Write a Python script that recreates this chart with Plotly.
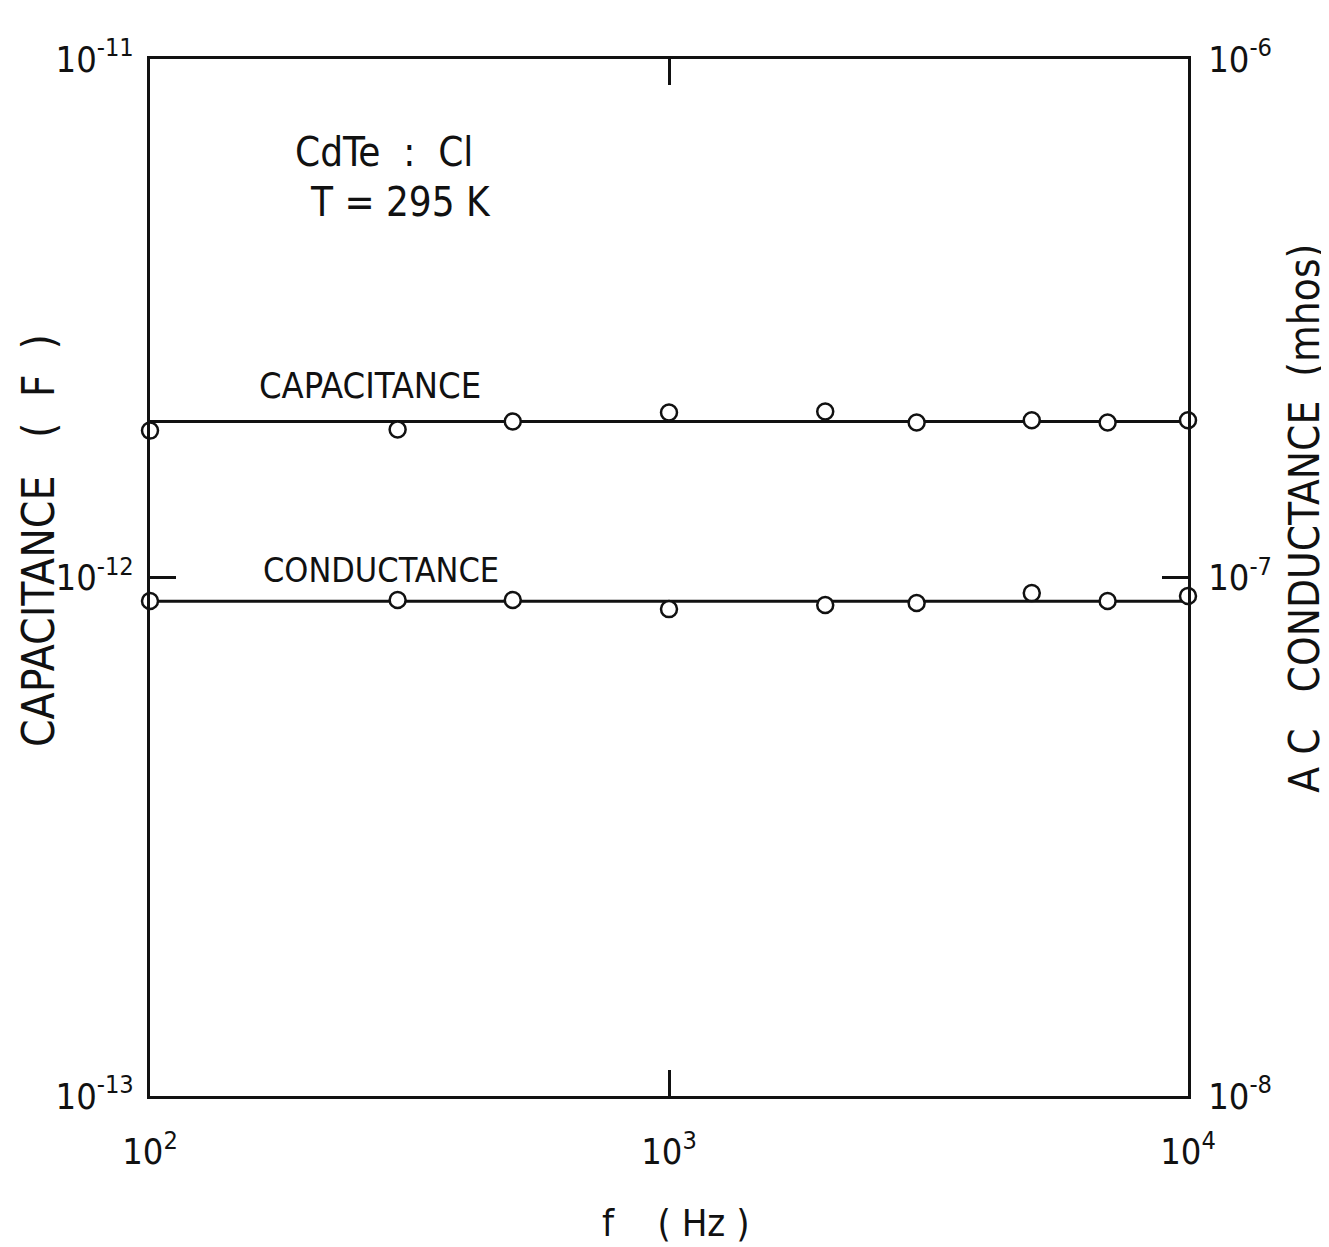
import plotly.graph_objects as go

# ---- data ----
freq_hz = [100, 300, 500, 1000, 2000, 3000, 5000, 7000, 10000]
capacitance_F = [1.92e-12, 1.93e-12, 2.00e-12, 2.08e-12, 2.09e-12, 1.99e-12, 2.01e-12, 1.99e-12, 2.01e-12]
conductance_mhos = [9.01e-8, 9.05e-8, 9.05e-8, 8.69e-8, 8.85e-8, 8.93e-8, 9.33e-8, 9.01e-8, 9.21e-8]
fit_freq = [100, 10000]
capacitance_fit = [2.0e-12, 2.0e-12]
conductance_fit = [9.0e-8, 9.0e-8]

x_tickvals = [1e2, 1e3, 1e4]
x_ticktext = ["10<sup>2</sup>", "10<sup>3</sup>", "10<sup>4</sup>"]
yl_tickvals = [1e-13, 1e-12, 1e-11]
yl_ticktext = ["10<sup>-13</sup>", "10<sup>-12</sup>", "10<sup>-11</sup>"]
yr_tickvals = [1e-8, 1e-7, 1e-6]
yr_ticktext = ["10<sup>-8</sup>", "10<sup>-7</sup>", "10<sup>-6</sup>"]

FONT = "Liberation Sans Narrow, DejaVu Sans Condensed, DejaVu Sans, sans-serif"
INK = "#111111"

fig = go.Figure()

# fitted lines
fig.add_trace(go.Scatter(x=fit_freq, y=capacitance_fit, mode="lines",
                         line=dict(color=INK, width=3), showlegend=False,
                         xaxis="x", yaxis="y", cliponaxis=False))
fig.add_trace(go.Scatter(x=fit_freq, y=conductance_fit, mode="lines",
                         line=dict(color=INK, width=3), showlegend=False,
                         xaxis="x", yaxis="y2", cliponaxis=False))
# data points
fig.add_trace(go.Scatter(x=freq_hz, y=capacitance_F, mode="markers",
                         marker=dict(symbol="circle", size=16, color="white",
                                     line=dict(color=INK, width=2.5)),
                         showlegend=False, xaxis="x", yaxis="y", cliponaxis=False))
fig.add_trace(go.Scatter(x=freq_hz, y=conductance_mhos, mode="markers",
                         marker=dict(symbol="circle", size=16, color="white",
                                     line=dict(color=INK, width=2.5)),
                         showlegend=False, xaxis="x", yaxis="y2", cliponaxis=False))

axis_common = dict(showgrid=False, zeroline=False, showline=True, linecolor=INK,
                   linewidth=3, ticks="inside", tickcolor=INK, tickwidth=3, ticklen=26,
                   tickfont=dict(family=FONT, size=36, color=INK))

fig.update_layout(
    width=1329, height=1247,
    margin=dict(l=142, r=149, t=51, b=159),
    paper_bgcolor="white", plot_bgcolor="white",
    showlegend=False,
    xaxis=dict(type="log", range=[2, 4], tickvals=x_tickvals, ticktext=x_ticktext,
               mirror="ticks", ticklabelstandoff=22, **axis_common),
    yaxis=dict(type="log", range=[-13, -11], tickvals=yl_tickvals, ticktext=yl_ticktext,
               side="left", ticklabelstandoff=6, **axis_common),
    yaxis2=dict(type="log", range=[-8, -6], tickvals=yr_tickvals, ticktext=yr_ticktext,
                overlaying="y", side="right", ticklabelstandoff=10, **axis_common),
)

ann_font = dict(family=FONT, size=40, color=INK)
fig.add_annotation(text="CdTe  :  Cl", xref="paper", yref="paper", x=0.138, y=0.910,
                   xanchor="left", yanchor="middle", showarrow=False, font=ann_font)
fig.add_annotation(text="T = 295 K", xref="paper", yref="paper", x=0.152, y=0.862,
                   xanchor="left", yanchor="middle", showarrow=False, font=ann_font)
fig.add_annotation(text="CAPACITANCE", xref="paper", yref="paper", x=0.103, y=0.685,
                   xanchor="left", yanchor="middle", showarrow=False,
                   font=dict(family=FONT, size=36, color=INK))
fig.add_annotation(text="CONDUCTANCE", xref="paper", yref="paper", x=0.107, y=0.507,
                   xanchor="left", yanchor="middle", showarrow=False,
                   font=dict(family=FONT, size=34, color=INK))
# axis titles
fig.add_annotation(text="CAPACITANCE   (  F  )", xref="paper", yref="paper", x=-0.108, y=0.536,
                   xanchor="center", yanchor="middle", textangle=-90, showarrow=False,
                   font=dict(family=FONT, size=44, color=INK))
fig.add_annotation(text="A C   CONDUCTANCE  (mhos)", xref="paper", yref="paper", x=1.112, y=0.557,
                   xanchor="center", yanchor="middle", textangle=-90, showarrow=False,
                   font=dict(family=FONT, size=42, color=INK))
fig.add_annotation(text="f    ( Hz )", xref="paper", yref="paper", x=0.507, y=-0.122,
                   xanchor="center", yanchor="middle", showarrow=False,
                   font=dict(family=FONT, size=38, color=INK))

fig.write_html("out.html")
